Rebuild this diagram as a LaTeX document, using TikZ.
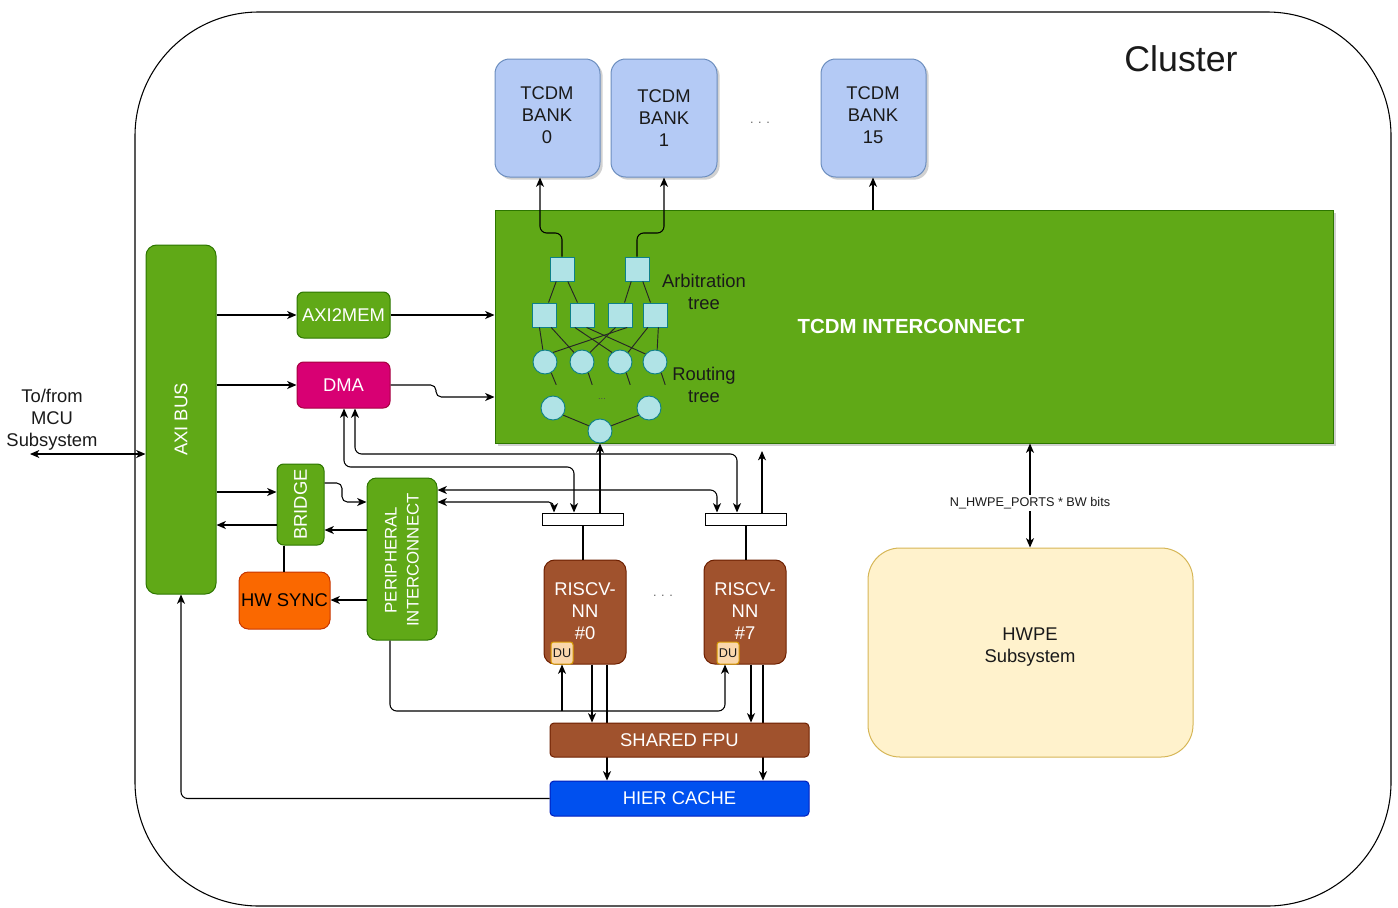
\documentclass[tikz,border=0pt]{standalone}
\usepackage{fontspec}
\setmainfont{Liberation Sans}
\usetikzlibrary{fit,arrows.meta,shadows}

\definecolor{grnF}{HTML}{60A917}
\definecolor{grnD}{HTML}{2D7600}
\definecolor{bankF}{HTML}{B4CAF5}
\definecolor{bankD}{HTML}{6C8EBF}
\definecolor{cyF}{HTML}{B0E3E6}
\definecolor{cyD}{HTML}{0E8088}
\definecolor{dmaF}{HTML}{D80073}
\definecolor{dmaD}{HTML}{A50040}
\definecolor{syncF}{HTML}{FA6800}
\definecolor{syncD}{HTML}{C73500}
\definecolor{coreF}{HTML}{A0522D}
\definecolor{coreD}{HTML}{6D1F00}
\definecolor{cacheF}{HTML}{0050EF}
\definecolor{cacheD}{HTML}{001DBC}
\definecolor{hwpeF}{HTML}{FFF2CC}
\definecolor{hwpeD}{HTML}{D6B656}
\definecolor{duF}{HTML}{FAD7AC}
\definecolor{duD}{HTML}{D79B00}
\definecolor{ink}{HTML}{1A1A1A}

\newcommand\mainfs{\fontsize{13.8pt}{16.5pt}\selectfont}
\newcommand\boldfs{\fontsize{15.3pt}{18pt}\selectfont\bfseries}
\newcommand\pifs{\fontsize{12.6pt}{16.5pt}\selectfont}
\newcommand\smallfs{\fontsize{9.5pt}{11pt}\selectfont}
\newcommand\tinyfs{\fontsize{7pt}{8pt}\selectfont}
\newcommand\titlefs{\fontsize{26.8pt}{30pt}\selectfont}

\begin{document}
\begin{tikzpicture}[x=0.75pt,y=-0.75pt,
  every node/.style={font=\mainfs, text=ink},
  blk/.style={draw, inner sep=0pt, line width=0.75pt},
  grn/.style={blk, fill=grnF, draw=grnD, rounded corners=6pt},
  bank/.style={blk, fill=bankF, draw=bankD, rounded corners=11pt,
    drop shadow={shadow xshift=2pt, shadow yshift=-2pt, opacity=0.3, fill=black!60}},
  core/.style={blk, fill=coreF, draw=coreD, rounded corners=8pt},
  dubox/.style={blk, fill=duF, draw=duD, rounded corners=2pt},
  fifo/.style={blk, fill=white, draw=black},
  txt/.style={align=center, inner sep=0pt},
  wtxt/.style={txt, text=white},
  sq/.style={draw=cyD, fill=cyF, minimum size=18pt, inner sep=0pt, line width=0.7pt},
  cir/.style={circle, draw=cyD, fill=cyF, minimum size=18pt, inner sep=0pt, line width=0.7pt},
  wire/.style={line width=0.8pt},
  arr/.style={wire, -{Stealth[length=7pt, width=6pt, inset=2pt]}},
  darr/.style={wire, {Stealth[length=7pt, width=6pt, inset=2pt]}-{Stealth[length=7pt, width=6pt, inset=2pt]}},
  tree/.style={line width=0.7pt, draw=black!85},
]
\useasboundingbox (0,0) rectangle (1398,907);

% cluster outline and title
\node[draw, line width=0.8pt, rounded corners=93pt, inner sep=0pt, fit={(135,12)(1391,906)}] (cluster) {};
\node[font=\titlefs] (title) at (1181,59) {Cluster};

% TCDM banks
\node[bank, fit={(495,59)(600,177)}] (bank0) {};
\node[bank, fit={(611,59)(717,177)}] (bank1) {};
\node[bank, fit={(821,59)(926,177)}] (bank15) {};
\node[txt] (bank0-t) at (547,115) {TCDM\\BANK\\0};
\node[txt] (bank1-t) at (664,118) {TCDM\\BANK\\1};
\node[txt] (bank15-t) at (873,115) {TCDM\\BANK\\15};
\node[font=\smallfs, text=black!60] (bdots) at (760,123) {. . .};

% TCDM interconnect
\node[blk, fill=grnF, draw=grnD,
  drop shadow={shadow xshift=2pt, shadow yshift=-2pt, opacity=0.3, fill=black!60},
  fit={(495,210)(1333,443)}] (tcdm) {};
\node[wtxt, font=\boldfs] (tcdm-t) at (911,326) {TCDM INTERCONNECT};

% arbitration tree
\node[sq] (a1) at (562,269) {};
\node[sq] (a2) at (637,269) {};
\node[sq] (b1) at (544,315) {};
\node[sq] (b2) at (582,315) {};
\node[sq] (b3) at (620,315) {};
\node[sq] (b4) at (655,315) {};
\node[cir] (c1) at (545,362) {};
\node[cir] (c2) at (582,362) {};
\node[cir] (c3) at (620,362) {};
\node[cir] (c4) at (655,362) {};
\node[cir] (r1) at (553,408) {};
\node[cir] (r2) at (649,408) {};
\node[cir] (r3) at (600,431) {};
\node[font=\tinyfs, text=black!70] (rdots) at (602,399) {...};

\draw[tree] (a1.-115) -- (b1.70);
\draw[tree] (a1.-65) -- (b2.110);
\draw[tree] (a2.-115) -- (b3.70);
\draw[tree] (a2.-65) -- (b4.110);
\draw[tree] (b1.-110) -- (c1.100);
\draw[tree] (b1.-60) -- (c2.130);
\draw[tree] (b2.-120) -- (c3.130);
\draw[tree] (b2.-70) -- (c4.140);
\draw[tree] (b3.-60) -- (c1.50);
\draw[tree] (b3.-110) -- (c2.50);
\draw[tree] (b4.-120) -- (c3.50);
\draw[tree] (b4.-75) -- (c4.80);
\draw[tree] (c1.-60) -- ++(5,12);
\draw[tree] (c2.-60) -- ++(4,12);
\draw[tree] (c3.-60) -- ++(4,12);
\draw[tree] (c4.-60) -- ++(4,12);
\draw[tree] (r1.-35) -- (r3.155);
\draw[tree] (r2.-145) -- (r3.25);

\node[txt] (arbtxt) at (704,292) {Arbitration\\tree};
\node[txt] (routtxt) at (704,385) {Routing\\tree};

% interconnect to banks
\draw[arr, rounded corners=5pt] (a1.north) -- (562,233) -- (540,233) -- (540,0 |- bank0.south);
\draw[arr, rounded corners=5pt] (a2.north) -- (637,233) -- (664,233) -- (664,0 |- bank1.south);
\draw[arr] (873,0 |- tcdm.north) -- (873,0 |- bank15.south);

% left side blocks
\node[grn, rounded corners=8pt, fit={(146,245)(216,594)}] (axi) {};
\node[wtxt, rotate=90] (axi-t) at (axi.center) {AXI BUS};
\node[grn, rounded corners=5pt, fit={(297,292)(390,338)}] (axi2mem) {};
\node[wtxt] (axi2mem-t) at (axi2mem.center) {AXI2MEM};
\node[blk, fill=dmaF, draw=dmaD, rounded corners=5pt, fit={(297,362)(390,408)}] (dma) {};
\node[wtxt] (dma-t) at (dma.center) {DMA};
\node[grn, rounded corners=5pt, fit={(277,464)(324,545)}] (bridge) {};
\node[wtxt, rotate=90] (bridge-t) at (bridge.center) {BRIDGE};
\node[blk, fill=syncF, draw=syncD, rounded corners=7pt, fit={(239,572)(330,629)}] (hwsync) {};
\node[txt, text=black] (hwsync-t) at (hwsync.center) {HW SYNC};
\node[grn, rounded corners=7pt, fit={(367,478)(437,640)}] (pi) {};
\node[wtxt, rotate=90, font=\pifs] (pi-t) at (402,560) {PERIPHERAL\\INTERCONNECT};

\node[txt] (mcu) at (52,420) {To/from\\MCU\\Subsystem};
\coordinate (mcuend) at (30,454);

% cores and their buffers
\node[fifo, fit={(542,513)(623,525)}] (f1) {};
\node[fifo, fit={(705,513)(786,525)}] (f2) {};
\node[core, fit={(544,560)(626,664)}] (risc0) {};
\node[core, fit={(704,560)(786,664)}] (risc7) {};
\node[wtxt] (risc0-t) at (585,611) {RISCV-\\NN\\\#0};
\node[wtxt] (risc7-t) at (745,611) {RISCV-\\NN\\\#7};
\node[dubox, fit={(551,642)(573,664)}] (du0) {};
\node[dubox, fit={(717,642)(739,664)}] (du7) {};
\node[txt, font=\smallfs] (du0-t) at (du0.center) {DU};
\node[txt, font=\smallfs] (du7-t) at (du7.center) {DU};
\node[font=\smallfs, text=black!60] (cdots) at (663,596) {. . .};

\node[blk, fill=cacheF, draw=cacheD, rounded corners=3pt, fit={(550,781)(809,816)}] (cache) {};
\node[wtxt] (cache-t) at (cache.center) {HIER CACHE};
\draw[arr] (607,0 |- risc0.south) -- (607,0 |- cache.north);
\draw[arr] (763,0 |- risc7.south) -- (763,0 |- cache.north);
\node[core, rounded corners=3pt, fit={(550,723)(809,757)}] (fpu) {};
\node[wtxt] (fpu-t) at (fpu.center) {SHARED FPU};
\draw[arr] (592,0 |- risc0.south) -- (592,0 |- fpu.north);
\draw[arr] (751,0 |- risc7.south) -- (751,0 |- fpu.north);

\draw[wire] (583,0 |- f1.south) -- (583,0 |- risc0.north);
\draw[wire] (746,0 |- f2.south) -- (746,0 |- risc7.north);

% HWPE subsystem
\node[blk, fill=hwpeF, draw=hwpeD, rounded corners=24pt, fit={(868,548)(1193,757)}] (hwpe) {};
\node[txt] (hwpe-t) at (1030,647) {HWPE\\Subsystem};
\draw[darr] (1030,0 |- tcdm.south) -- node[pos=0.57, fill=white, font=\smallfs, inner sep=1.5pt] (bwlbl) {N\_HWPE\_PORTS * BW bits} (1030,0 |- hwpe.north);

% AXI side connections
\draw[darr] (mcuend) -- (axi.west |- mcuend);
\draw[arr] (axi.east |- axi2mem.west) -- (axi2mem.west);
\draw[arr] (axi2mem.east) -- (tcdm.west |- axi2mem.east);
\draw[arr] (axi.east |- dma.west) -- (dma.west);
\draw[arr, rounded corners=4pt] (dma.east) -- (436,0 |- dma.east) -- (436,397) -- (tcdm.west |- 0,397);
\draw[arr] (axi.east |- 0,492) -- (bridge.west |- 0,492);
\draw[arr] (bridge.west |- 0,525) -- (axi.east |- 0,525);
\draw[arr, rounded corners=4pt] (bridge.east |- 0,483) -- (342,483) -- (342,502) -- (pi.west |- 0,502);
\draw[arr] (pi.west |- 0,530) -- (bridge.east |- 0,530);
\draw[arr] (pi.west |- 0,600) -- (hwsync.east |- 0,600);
\draw[wire] (284,0 |- bridge.south) -- (284,0 |- hwsync.north);

% DMA and peripheral ports of the cores
\draw[darr, rounded corners=5pt] (344,0 |- dma.south) -- (344,467) -- (574,467) -- (574,0 |- f1.north);
\draw[darr, rounded corners=5pt] (355,0 |- dma.south) -- (355,454) -- (737,454) -- (737,0 |- f2.north);
\draw[darr, rounded corners=4pt] (pi.east |- 0,502) -- (554,502) -- (554,0 |- f1.north);
\draw[darr, rounded corners=5pt] (pi.east |- 0,490) -- (717,490) -- (717,0 |- f2.north);

% cores to the TCDM interconnect
\coordinate (tgap) at (762,451);
\draw[arr] (600,0 |- f1.north) -- (r3.south);
\draw[arr] (762,0 |- f2.north) -- (tgap);

% debug unit links
\draw[arr, rounded corners=5pt] (390,0 |- pi.south) -- (390,711) -- (725,711) -- (725,0 |- du7.south);
\draw[arr] (562,711) -- (du0.south);

% cache back to the AXI bus
\draw[arr, rounded corners=5pt] (cache.west) -- (181,0 |- cache.west) -- (181,0 |- axi.south);

\end{tikzpicture}
\end{document}
